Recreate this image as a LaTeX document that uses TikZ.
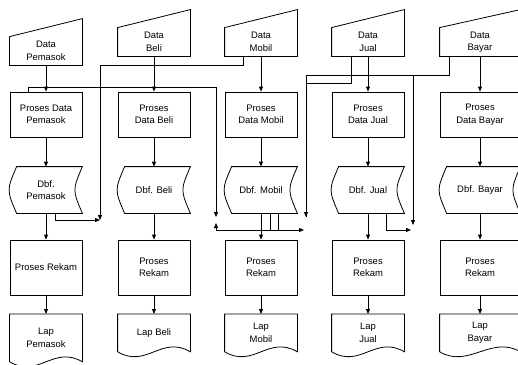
\documentclass[tikz,border=0pt]{standalone}
\usepackage{fontspec}
\setmainfont{Liberation Sans}
\usetikzlibrary{arrows.meta}

\tikzset{
    proses/.style={draw, minimum width=72bp, minimum height=45bp, inner sep=1bp, align=center},
    masukan/.style={minimum width=72bp, minimum height=28bp, inner sep=1bp, align=center},
    dbf/.style={minimum width=72bp, minimum height=46bp, inner sep=1bp, align=center},
    lap/.style={anchor=north, minimum width=72bp, minimum height=37bp, inner sep=1bp, align=center},
    alur/.style={-{Triangle[length=5bp,width=4bp]}}
}

\begin{document}
\begin{tikzpicture}[x=1bp, y=-1bp, line width=0.8bp,
    every node/.style={font=\fontsize{9.5}{12.5}\selectfont}]

    \useasboundingbox (0,0) rectangle (518,364);

    % ==========================================
    % 1. INPUT DATA (manual input, top row)
    % ==========================================
    \node[masukan] (in1) at (46,51) {Data\\Pemasok};
    \node[masukan] (in2) at (154,42) {Data\\Beli};
    \node[masukan] (in3) at (261,42) {Data\\Mobil};
    \node[masukan] (in4) at (368,42) {Data\\Jual};
    \node[masukan, minimum width=80bp] (in5) at (480,42) {Data\\Bayar};

    % slanted top of each input
    \foreach \i in {1,...,5}
        \draw (in\i.south west) -- (in\i.south east) -- ([yshift=18bp]in\i.north east)
            -- (in\i.north west) -- cycle;

    % ==========================================
    % 2. PROSES DATA
    % ==========================================
    \node[proses] (pd1) at (46,114.5) {Proses Data\\Pemasok};
    \node[proses] (pd2) at (154,114.5) {Proses\\Data Beli};
    \node[proses] (pd3) at (261,114.5) {Proses\\Data Mobil};
    \node[proses] (pd4) at (368,114.5) {Proses\\Data Jual};
    \node[proses, minimum width=80bp] (pd5) at (480,114.5) {Proses\\Data Bayar};

    % ==========================================
    % 3. DBF (stored data)
    % ==========================================
    \node[dbf] (db1) at (46,190) {Dbf.\\Pemasok};
    \node[dbf] (db2) at (154,190) {Dbf. Beli};
    \node[dbf] (db3) at (261,190) {Dbf. Mobil};
    \node[dbf] (db4) at (368,190) {Dbf. Jual};
    \node[dbf, minimum width=80bp] (db5) at (480,190) {Dbf. Bayar};

    \foreach \i in {1,...,5}
        \draw ([xshift=7bp]db\i.north west) -- (db\i.north east)
            .. controls ([xshift=-10bp]db\i.east) .. (db\i.south east)
            -- ([xshift=7bp]db\i.south west)
            .. controls ([xshift=-3bp]db\i.west) .. cycle;

    % ==========================================
    % 4. PROSES REKAM & LAPORAN
    % ==========================================
    \node[proses, minimum height=55bp] (pr1) at (46,267.5) {Proses Rekam};
    \node[proses, minimum height=55bp] (pr2) at (154,267.5) {Proses\\Rekam};
    \node[proses, minimum height=55bp] (pr3) at (261,267.5) {Proses\\Rekam};
    \node[proses, minimum height=55bp] (pr4) at (368,267.5) {Proses\\Rekam};
    \node[proses, minimum height=55bp, minimum width=80bp] (pr5) at (480,267.5) {Proses\\Rekam};

    \node[lap, minimum height=47bp] (lp1) at (46,314) {Lap\\Pemasok};
    \node[lap] (lp2) at (154,314) {Lap Beli};
    \node[lap] (lp3) at (261,314) {Lap\\Mobil};
    \node[lap] (lp4) at (368,314) {Lap\\Jual};
    \node[lap, minimum width=80bp] (lp5) at (480,314) {Lap\\Bayar};

    % document shape with wavy bottom
    \foreach \i in {1,...,5}
        \draw (lp\i.south west) -- (lp\i.north west) -- (lp\i.north east) -- (lp\i.south east)
            .. controls +(-29bp,17bp) and +(29bp,-17bp) .. (lp\i.south west);

    % ==========================================
    % 5. MAIN FLOW (straight down each column)
    % ==========================================
    \foreach \i in {1,...,5} {
        \draw[alur] (in\i) -- (pd\i);
        \draw[alur] (pd\i) -- (db\i);
        \draw[alur] (db\i) -- (pr\i);
        \draw[alur] (pr\i) -- (lp\i);
    }

    % ==========================================
    % 6. CROSS LINKS
    % ==========================================
    \coordinate (j1) at (100,220);
    \coordinate (j3) at (216,217);
    \coordinate (j3u) at (216,223);
    \coordinate (k3) at (216,230);
    \coordinate (j4) at (306,217);
    \coordinate (j4r) at (304,230);
    \coordinate (j5) at (413,225);
    \coordinate (j5r) at (411,230);

    % Data Mobil and Dbf. Pemasok
    \draw[alur] ([xshift=-18bp]in3.south) -- ++(0,9) -| (j1);
    \draw[alur] ([xshift=9bp]db1.south) |- (j1);

    % Proses Data Pemasok and Dbf. Mobil
    \draw[alur] ([xshift=-18bp]pd1.north) -- ++(0,-4) -| (j3);
    \draw[alur] ([xshift=17bp]db3.south) |- (k3) -- (j3u);
    \draw[alur] ([xshift=9bp]db3.south) |- (j4r);

    % Data Jual, Data Bayar and Dbf. Jual
    \draw[alur] ([xshift=-17bp]in4.south) -- ++(0,27) -| (j4);
    \draw ([xshift=-31bp]in5.south) -- ++(0,19) -| (j4);
    \draw[alur] ([xshift=-31bp]in5.south) -- ++(0,19) -| (j5);
    \draw[alur] ([xshift=18bp]db4.south) |- (j5r);

\end{tikzpicture}
\end{document}
